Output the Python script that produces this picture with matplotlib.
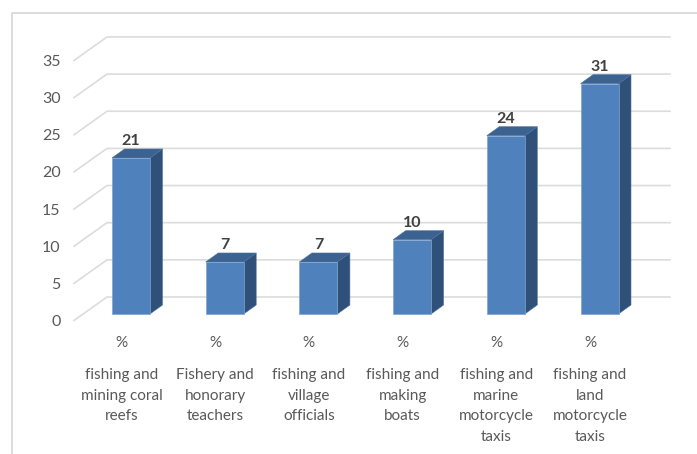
import matplotlib
matplotlib.use('Agg')
import matplotlib.pyplot as plt
from matplotlib.patches import Polygon

categories = ['fishing and\nmining coral\nreefs', 'Fishery and\nhonorary\nteachers',
              'fishing and\nvillage\nofficials', 'fishing and\nmaking\nboats',
              'fishing and\nmarine\nmotorcycle\ntaxis', 'fishing and\nland\nmotorcycle\ntaxis']
values = [21, 7, 7, 10, 24, 31]
yticks = [0, 5, 10, 15, 20, 25, 30, 35]
unit = '%'

plt.rcParams['font.family'] = ['Lato', 'DejaVu Sans']

W, H = 697, 454
fig = plt.figure(figsize=(W / 100, H / 100), dpi=100)
ax = fig.add_axes([0, 0, 1, 1])

# pixel calibration: bar 0 centre, spacing, baseline, px per unit
x0, xstep, y0, ystep = 131, 93.7, 314, 7.43
ax.set_xlim(-x0 / xstep, (W - x0) / xstep)
ax.set_ylim((y0 - H) / ystep, y0 / ystep)
ax.axis('off')

def px(p):
    return p / xstep

def py(p):
    return p / ystep

# outer frame
frame_l, frame_t = px(12.5 - x0), py(y0 - 12.5)
ax.plot([frame_l, frame_l, ax.get_xlim()[1]], [ax.get_ylim()[0], frame_t, frame_t],
        color='#d9d9d9', lw=1.3, zorder=1, solid_capstyle='butt')

# floor/wall gridlines, front end is lower than the bars' base, back end higher
front_x, back_x, end_x = px(74 - x0), px(107 - x0), px(670 - x0)
front_dy, back_dy = py(-6.5), py(17)
for t in yticks:
    ax.plot([front_x, back_x, end_x], [t + front_dy, t + back_dy, t + back_dy],
            color='#dcdcdc', lw=1.2, zorder=1, solid_joinstyle='miter')
    ax.text(px(60.5 - x0), t + py(-8), str(t), ha='right', va='center',
            fontsize=11.5, color='#595959')

# bars, with the side and top faces built from the values
half = px(19)
depth_x, depth_y = px(12.5), py(9)
for i, v in enumerate(values):
    ax.bar(i, v, width=2 * half, color='#4f81bd', edgecolor='#7ea3d1', lw=0.5, zorder=3)
    r = i + half
    l = i - half
    ax.add_patch(Polygon([(r, 0), (r + depth_x, depth_y), (r + depth_x, v + depth_y), (r, v)],
                         closed=True, fc='#2f5079', ec='#4f719b', lw=0.4, zorder=2))
    ax.add_patch(Polygon([(l, v), (l + depth_x, v + depth_y), (r + depth_x, v + depth_y), (r, v)],
                         closed=True, fc='#3b6290', ec='#4f719b', lw=0.4, zorder=2))
    ax.text(i, v + depth_y + py(0.5), str(v), ha='center', va='bottom', fontsize=11.5,
            fontweight='bold', color='#404040', zorder=4)

# category labels
for i, c in enumerate(categories):
    xc = i - px(9.5)
    ax.text(xc, py(y0 - 343), unit, ha='center', va='center', fontsize=11, color='#595959')
    ax.text(xc, py(y0 - 368.5), c, ha='center', va='top', fontsize=11, color='#595959',
            linespacing=1.58)

fig.savefig('out.png', dpi=100)
